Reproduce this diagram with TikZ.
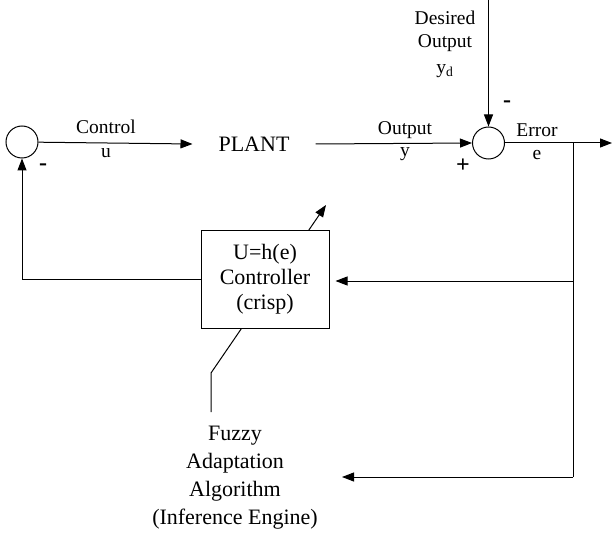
\documentclass[tikz,border=0pt]{standalone}
\usepackage{fontspec}
\setmainfont{Liberation Serif}
\usetikzlibrary{arrows.meta}
\begin{document}
\begin{tikzpicture}[x=1pt,y=-1pt,
  line width=1pt,
  tip/.style={-{Triangle[length=12pt,width=9pt]}},
  sumnode/.style={circle,draw,minimum size=32pt,inner sep=0pt},
  big/.style={font=\fontsize{22}{25}\selectfont,inner sep=0pt},
  small/.style={font=\fontsize{19.5}{24}\selectfont,inner sep=0pt},
]
\useasboundingbox (0,0) rectangle (612,534);
% summing junctions and plant
\node[sumnode] (s1) at (22,142) {};
\node[sumnode] (s2) at (488.5,143) {};
\node[big,minimum width=122pt] (plant) at (254,144) {PLANT};
% coordinates
\coordinate (top) at (488.5,0);
\coordinate (out) at (612,143);
\coordinate (br) at (573,143);
\coordinate (bm) at (573,281);
\coordinate (bot) at (573,477);
\coordinate (fin) at (342,477);
\coordinate (a0) at (211,412);
\coordinate (a1) at (211,373);
\coordinate (a2) at (326,205);
% adaptation arrow (behind the box)
\draw[tip] (a0) -- (a1) -- (a2);
% controller
\node[big,draw,fill=white,minimum width=128pt,minimum height=97pt,align=center,
  font=\fontsize{22}{25}\selectfont] (ctrl) at (265,279.5) {U=h(e)\\Controller\\(crisp)};
% fuzzy block
\node[align=center,font=\fontsize{22}{28}\selectfont,inner sep=0pt] (fuzzy) at (235,478)
  {Fuzzy\\Adaptation\\Algorithm\\(Inference Engine)};
% connectors
\draw[tip] (s1) -- (plant.west);
\draw[tip] (plant.east) -- (s2.west);
\draw[tip] (top) -- (s2.north);
\draw[tip] (s2.east) -- (out);
\draw (br) -- (bot);
\draw[tip] (bm) -- ([xshift=6pt]ctrl.east |- bm);
\draw[tip] (bot) -- (fin);
\draw[tip] (ctrl.west) -| (s1.south);
% labels
\node[small] (lc) at (106,127) {Control};
\node[small] (lu) at (106,153) {u};
\node[small] (lo) at (405,130) {Output};
\node[small] (ly) at (405,154) {y};
\node[small] (le) at (537,130) {Error};
\node[small] (lee) at (537,155) {e};
\node[small] (d1) at (445,18) {Desired};
\node[small] (d2) at (445,43) {Output};
\node[small] (d3) at (445,71) {y\textsubscript{d}};
\node[small,font=\fontsize{24}{24}\selectfont\bfseries] (plus) at (463,166) {+};
\node[small,font=\fontsize{24}{24}\selectfont\bfseries] (m2) at (507,104) {-};
\node[small,font=\fontsize{24}{24}\selectfont\bfseries] (m1) at (43,167) {-};
\end{tikzpicture}
\end{document}
